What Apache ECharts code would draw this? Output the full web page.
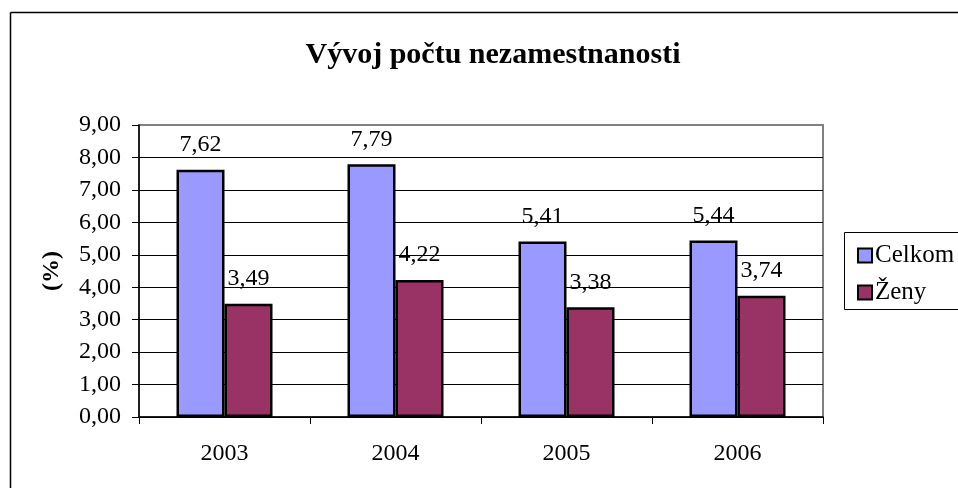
<!DOCTYPE html>
<html>
<head>
<meta charset="utf-8">
<script src="https://cdn.jsdelivr.net/npm/echarts@6/dist/echarts.min.js"></script>
<style>
html,body{margin:0;padding:0;background:#fff;}
#chart{width:958px;height:488px;}
</style>
</head>
<body>
<div id="chart"></div>
<script>
const titleText = 'Vývoj počtu nezamestnanosti';
const categories = ['2003', '2004', '2005', '2006'];
const seriesNames = ['Celkom', 'Ženy'];
const celkom = [7.62, 7.79, 5.41, 5.44];
const zeny = [3.49, 4.22, 3.38, 3.74];
const yMin = 0, yMax = 9, yInterval = 1;
const yAxisName = '(%)';

const FONT = '"Liberation Serif", "Times New Roman", serif';
const fmt = v => Number(v).toFixed(2).replace('.', ',');

const chart = echarts.init(document.getElementById('chart'), null, {renderer: 'canvas'});

function barSeries(name, data, color) {
  return {
    name: name,
    type: 'bar',
    data: data,
    barWidth: 48,
    barGap: '0%',
    itemStyle: {color: color, borderColor: '#000', borderWidth: 2.5},
    label: {
      show: true,
      position: 'top',
      distance: 13,
      formatter: p => fmt(p.value),
      fontFamily: FONT,
      fontSize: 24,
      color: '#000'
    }
  };
}

chart.setOption({
  animation: false,
  backgroundColor: '#fff',
  textStyle: {fontFamily: FONT},
  title: {
    text: titleText,
    left: 488,
    textAlign: 'center',
    top: 35,
    textStyle: {fontFamily: FONT, fontSize: 30, fontWeight: 'bold', color: '#000'}
  },
  legend: {
    orient: 'vertical',
    left: 852,
    top: 238,
    itemWidth: 14,
    itemHeight: 14,
    itemGap: 12,
    icon: 'rect',
    data: seriesNames,
    itemStyle: {borderColor: '#000', borderWidth: 2},
    textStyle: {fontFamily: FONT, fontSize: 25, color: '#000', padding: [0, 0, 0, -2]}
  },
  grid: {
    left: 139, right: 135, top: 125, bottom: 71,
    show: true, borderColor: '#808080', borderWidth: 2, backgroundColor: 'transparent'
  },
  xAxis: {
    type: 'category',
    data: categories,
    axisLine: {lineStyle: {color: '#000', width: 1.5}},
    axisTick: {show: true, length: 7, lineStyle: {color: '#000', width: 1}},
    axisLabel: {fontFamily: FONT, fontSize: 24, color: '#000', margin: 25}
  },
  yAxis: {
    type: 'value',
    min: yMin, max: yMax, interval: yInterval,
    name: yAxisName,
    nameLocation: 'middle',
    nameGap: 75,
    nameTextStyle: {fontFamily: FONT, fontSize: 24, fontWeight: 'bold', color: '#000'},
    axisLine: {show: true, lineStyle: {color: '#000', width: 1.5}},
    axisTick: {show: true, length: 7, lineStyle: {color: '#000'}},
    axisLabel: {fontFamily: FONT, fontSize: 24, color: '#000', margin: 18, formatter: v => fmt(v)},
    splitLine: {show: true, showMaxLine: false, lineStyle: {color: '#000', width: 1}}
  },
  graphic: [
    {type: 'line', shape: {x1: 10.5, y1: 12.5, x2: 958, y2: 12.5}, style: {stroke: '#000', lineWidth: 1.5}, silent: true},
    {type: 'line', shape: {x1: 10.5, y1: 12.5, x2: 10.5, y2: 488}, style: {stroke: '#000', lineWidth: 1.5}, silent: true},
    {type: 'rect', shape: {x: 844.5, y: 232.5, width: 200, height: 77}, style: {fill: 'none', stroke: '#000', lineWidth: 1}, silent: true}
  ],
  series: [
    barSeries(seriesNames[0], celkom, '#9999FF'),
    barSeries(seriesNames[1], zeny, '#993366')
  ]
});
</script>
</body>
</html>
